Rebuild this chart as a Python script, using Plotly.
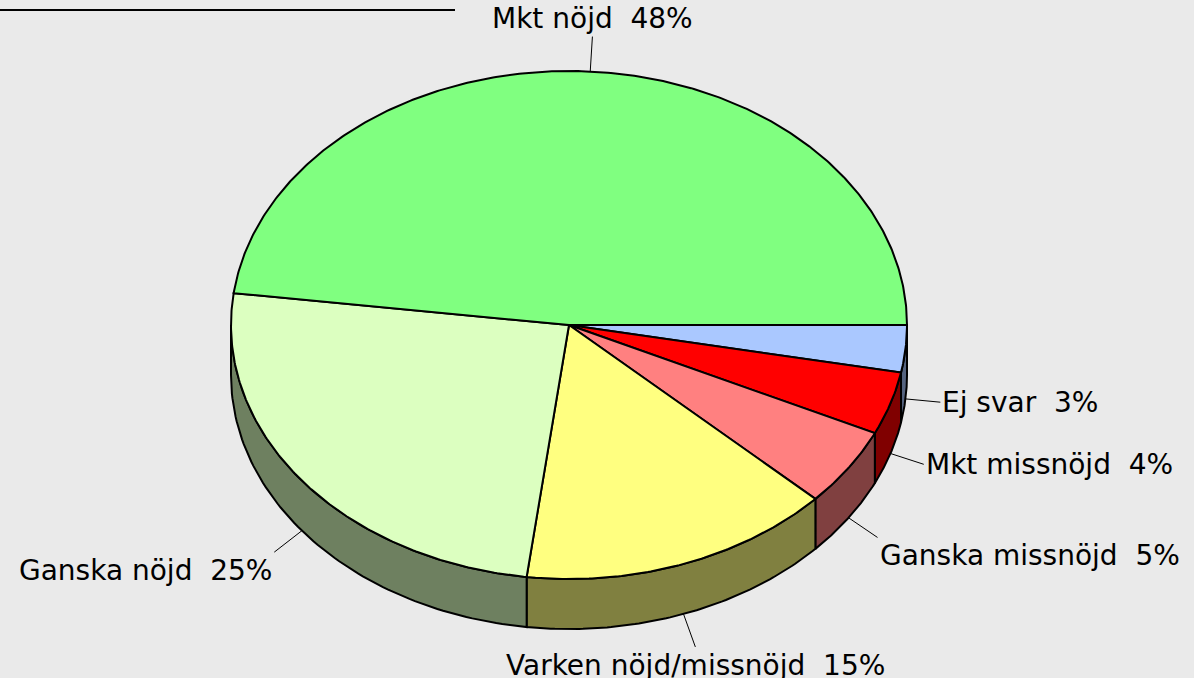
import numpy as np
import plotly.graph_objects as go

# ---- data ----
labels = ["Ej svar", "Mkt missnöjd", "Ganska missnöjd", "Varken nöjd/missnöjd", "Ganska nöjd", "Mkt nöjd"]
values = [3, 4, 5, 15, 25, 48]
top_colors = ["#AAC8FF", "#FF0000", "#FF8080", "#FFFF80", "#DCFFC0", "#80FF80"]
side_colors = ["#556480", "#800000", "#804040", "#808040", "#6E8060", "#408040"]

# ---- geometry (pixel space) ----
W, H = 1194, 678
cx, cy, rx, ry, depth = 569, 325, 338, 254, 50
lead = 35

fig = go.Figure()
total = sum(values)
angles = np.cumsum([0] + [v / total * 360 for v in values])

def pt(t, dz=0):
    r = np.radians(t)
    return cx + rx * np.cos(r), cy + ry * np.sin(r) + dz

# side walls (front half, t in [0,180])
for i in range(len(values)):
    a, b = angles[i], angles[i + 1]
    lo, hi = max(a, 0), min(b, 180)
    if hi <= lo:
        continue
    ts = np.linspace(lo, hi, 80)
    xs_top, ys_top = pt(ts)
    xs_bot, ys_bot = pt(ts[::-1], depth)
    xs = np.concatenate([xs_top, xs_bot, xs_top[:1]])
    ys = np.concatenate([ys_top, ys_bot, ys_top[:1]])
    fig.add_trace(go.Scatter(x=xs, y=ys, mode="lines", fill="toself",
                             fillcolor=side_colors[i], line=dict(color="black", width=2),
                             hoverinfo="skip", showlegend=False))

# top slices
for i in range(len(values)):
    a, b = angles[i], angles[i + 1]
    ts = np.linspace(a, b, max(10, int((b - a) * 2)))
    xs, ys = pt(ts)
    xs = np.concatenate([[cx], xs, [cx]])
    ys = np.concatenate([[cy], ys, [cy]])
    fig.add_trace(go.Scatter(x=xs, y=ys, mode="lines", fill="toself",
                             fillcolor=top_colors[i], line=dict(color="black", width=2),
                             hoverinfo="skip", showlegend=False))

# labels with leader lines
for i in range(len(values)):
    m = (angles[i] + angles[i + 1]) / 2
    r = np.radians(m)
    c, s = np.cos(r), np.sin(r)
    dz = depth if s > 0 else 0
    x0, y0 = pt(m, dz)
    x1, y1 = x0 + lead * c, y0 + lead * s
    fig.add_trace(go.Scatter(x=[x0, x1], y=[y0, y1], mode="lines",
                             line=dict(color="black", width=1), hoverinfo="skip", showlegend=False))
    xa = "left" if c > 0.5 else ("right" if c < -0.5 else "center")
    ya = "top" if s > 0.5 else ("bottom" if s < -0.5 else "middle")
    fig.add_annotation(x=x1, y=y1, text=f"{labels[i]}\u00a0\u00a0{values[i]}%", showarrow=False,
                       xanchor=xa, yanchor=ya, font=dict(family="DejaVu Sans", size=28, color="black"))

# decorative line top-left
fig.add_shape(type="line", x0=0, x1=455, y0=10, y1=10, line=dict(color="black", width=2))

fig.update_layout(width=W, height=H, autosize=False,
                  margin=dict(l=0, r=0, t=0, b=0),
                  paper_bgcolor="#EAEAEA", plot_bgcolor="#EAEAEA",
                  xaxis=dict(range=[0, W], visible=False, fixedrange=True),
                  yaxis=dict(range=[H, 0], visible=False, fixedrange=True))

fig.write_html("out.html", config={"displayModeBar": False},
               post_script="document.body.style.margin='0';document.body.style.overflow='hidden';document.body.style.background='#EAEAEA';")
